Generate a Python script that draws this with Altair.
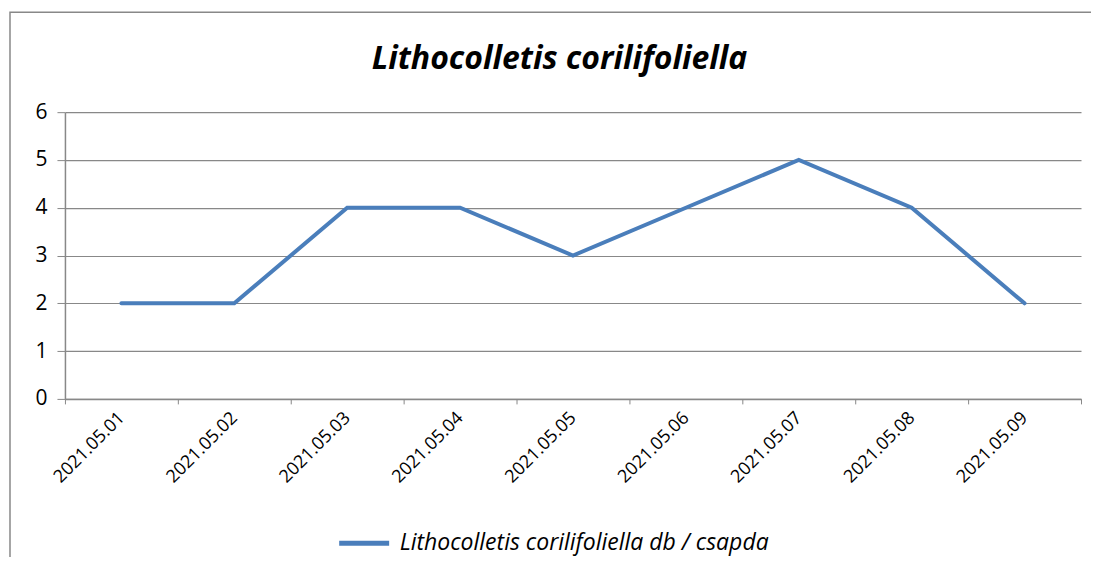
import altair as alt
import pandas as pd

dates = ["2021.05.01", "2021.05.02", "2021.05.03", "2021.05.04", "2021.05.05",
         "2021.05.06", "2021.05.07", "2021.05.08", "2021.05.09"]
values = [2, 2, 4, 4, 3, 4, 5, 4, 2]
series = "Lithocolletis corilifoliella db / csapda"
title = "Lithocolletis corilifoliella"

df = pd.DataFrame({"date": dates, "value": values, "series": [series] * len(dates)})

FONT = "Open Sans"
W, H = 1017, 287

border = alt.Chart(pd.DataFrame({"a": [0]})).mark_rect(
    fill=None, stroke="#888888", strokeWidth=1.5
).encode(
    x=alt.value(-55), x2=alt.value(1050), y=alt.value(-100), y2=alt.value(480)
)

title_mark = alt.Chart(pd.DataFrame({"t": [title]})).mark_text(
    font=FONT, fontSize=32, fontStyle="italic", fontWeight="bold", color="#000000",
    align="center", baseline="middle"
).encode(x=alt.value(495), y=alt.value(-53), text="t:N")

line = alt.Chart(df).mark_line(color="#4a7ebb", strokeWidth=4, strokeCap="round").encode(
    x=alt.X("date:N", sort=dates, title=None,
            scale=alt.Scale(type="band", paddingInner=0, paddingOuter=0),
            axis=alt.Axis(labelAngle=-45, labelAlign="right", labelBaseline="middle",
                          labelFontSize=18, labelFont=FONT, labelColor="#000000",
                          tickBand="extent", tickSize=5, tickColor="#888888",
                          domainColor="#888888", domainWidth=1.5, grid=False,
                          labelPadding=11)),
    y=alt.Y("value:Q", title=None,
            scale=alt.Scale(domain=[0, 6], nice=False),
            axis=alt.Axis(values=[0, 1, 2, 3, 4, 5, 6], labelFontSize=21, labelFont=FONT,
                          labelColor="#000000", tickSize=8, tickColor="#888888",
                          domainColor="#888888", domainWidth=1.5, gridColor="#888888",
                          gridWidth=1.2, labelPadding=10)),
    color=alt.Color("series:N", scale=alt.Scale(range=["#4a7ebb"]),
                    legend=alt.Legend(title=None, orient="none", legendX=272, legendY=404,
                                      symbolType="stroke", symbolStrokeWidth=5,
                                      symbolSize=2500, labelFontSize=23, labelFont=FONT,
                                      labelFontStyle="italic", labelColor="#000000",
                                      labelOffset=8, labelLimit=700)),
)

chart = alt.layer(border, title_mark, line).properties(
    width=W, height=H,
    autosize=alt.AutoSizeParams(type="none"),
    padding={"left": 57, "top": 104, "right": 10, "bottom": 158},
).configure_view(stroke=None)

chart.save("out.html", embed_options={"renderer": "svg", "actions": False})
